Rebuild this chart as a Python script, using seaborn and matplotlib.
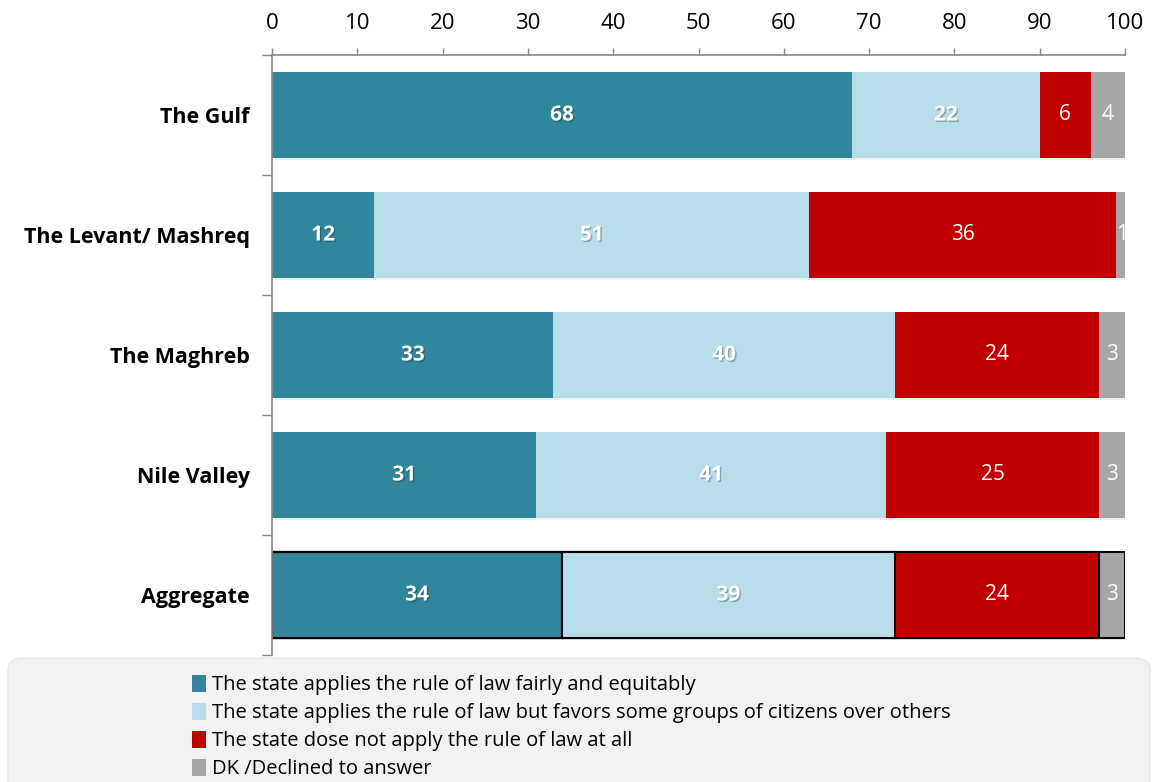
import matplotlib
matplotlib.use("Agg")
import matplotlib.pyplot as plt
import matplotlib.patheffects as pe
from matplotlib.patches import FancyBboxPatch, Rectangle
import numpy as np
import pandas as pd
import seaborn as sns

regions = ["The Gulf", "The Levant/ Mashreq", "The Maghreb", "Nile Valley", "Aggregate"]
fair = [68, 12, 33, 31, 34]
favors = [22, 51, 40, 41, 39]
not_apply = [6, 36, 24, 25, 24]
declined = [4, 1, 3, 3, 3]

series_names = [
    "The state applies the rule of law fairly and equitably",
    "The state applies the rule of law but favors some groups of citizens over others",
    "The state dose not apply the rule of law at all",
    "DK /Declined to answer",
]
series_values = [fair, favors, not_apply, declined]
colors = ["#31859C", "#B7DDE8", "#C00000", "#A6A6A6"]
x_ticks = [0, 10, 20, 30, 40, 50, 60, 70, 80, 90, 100]

sns.set_theme(style="white")
plt.rcParams["font.family"] = ["Open Sans", "DejaVu Sans"]
plt.rcParams["text.color"] = "black"

fig = plt.figure(figsize=(11.58, 7.82), dpi=100)

# legend panel behind everything, its lower corners run off the canvas
panel = FancyBboxPatch((8 / 1158, -0.05), (1158 - 16) / 1158, 0.05 + (782 - 658) / 782,
                       boxstyle="round,pad=0,rounding_size=0.015", transform=fig.transFigure,
                       facecolor="#F2F2F2", edgecolor="#E3E3E3", linewidth=0.8, zorder=0)
fig.patches.append(panel)

ax = fig.add_axes([272 / 1158, 1 - 655 / 782, (1125 - 272) / 1158, (655 - 55) / 782])
ax.patch.set_alpha(0)

vals = np.array(series_values, dtype=float)
cum = np.cumsum(vals, axis=0)

# stacked bars: draw cumulative totals from the outermost segment inward
shadow = [pe.SimplePatchShadow(offset=(2, -2), shadow_rgbFace="k", alpha=0.07), pe.Normal()]
for k, i in enumerate(range(len(series_values) - 1, -1, -1)):
    df = pd.DataFrame({"region": regions, "value": cum[i]})
    sns.barplot(data=df, y="region", x="value", orient="h", color=colors[i],
                saturation=1, width=0.71, ax=ax, edgecolor="none", linewidth=0)
    if k == 0:
        for p in ax.patches:
            p.set_path_effects(shadow)

# outline the aggregate row segments
agg = len(regions) - 1
for p in ax.patches:
    cy = p.get_y() + p.get_height() / 2
    if abs(cy - agg) < 0.01:
        p.set_edgecolor("black")
        p.set_linewidth(1.5)

# value labels
bold_fx = [pe.withSimplePatchShadow(offset=(1, -1), shadow_rgbFace="k", alpha=0.3)]
for i, s in enumerate(series_values):
    for j, v in enumerate(s):
        left = cum[i][j] - v
        cx = left + v / 2
        bold = i < 2
        if v <= 1:
            cx = left + v - 0.3
        ax.text(cx, j, f"{v:g}", ha="center", va="center", color="white", fontsize=15,
                fontweight="bold" if bold else "normal",
                path_effects=bold_fx if bold else [])

ax.set_xlim(0, 100)
ax.set_ylim(len(regions) - 0.5, -0.5)
ax.xaxis.tick_top()
ax.set_xticks(x_ticks)
ax.set_xticklabels([str(t) for t in x_ticks], fontsize=16, color="black")
ax.tick_params(axis="x", which="major", direction="out", length=5, width=1, color="#888888", pad=10)
ax.set_xlabel("")
ax.set_ylabel("")

ax.set_yticks(range(len(regions)))
ax.set_yticklabels(regions, fontsize=15.5, fontweight="bold", color="black")
ax.tick_params(axis="y", which="major", length=0, pad=16)
ax.set_yticks(np.arange(-0.5, len(regions), 1.0), minor=True)
ax.tick_params(axis="y", which="minor", direction="out", length=7, width=1, color="#888888", left=True)

for side in ["right", "bottom"]:
    ax.spines[side].set_visible(False)
for side in ["top", "left"]:
    ax.spines[side].set_visible(True)
    ax.spines[side].set_color("#888888")
    ax.spines[side].set_linewidth(1.2)
ax.grid(False)

handles = [Rectangle((0, 0), 1, 1, facecolor=c, edgecolor="none") for c in colors]
leg = fig.legend(handles, series_names, loc="upper left", bbox_to_anchor=(192 / 1158, 1 - 675 / 782),
                 frameon=False, handlelength=0.7, handleheight=0.9, handletextpad=0.3,
                 labelspacing=0.38, borderaxespad=0, borderpad=0,
                 prop={"family": ["Liberation Sans Narrow", "Open Sans", "DejaVu Sans"], "size": 14.5})
for t in leg.get_texts():
    t.set_color("black")

fig.savefig("out.png", dpi=100)
